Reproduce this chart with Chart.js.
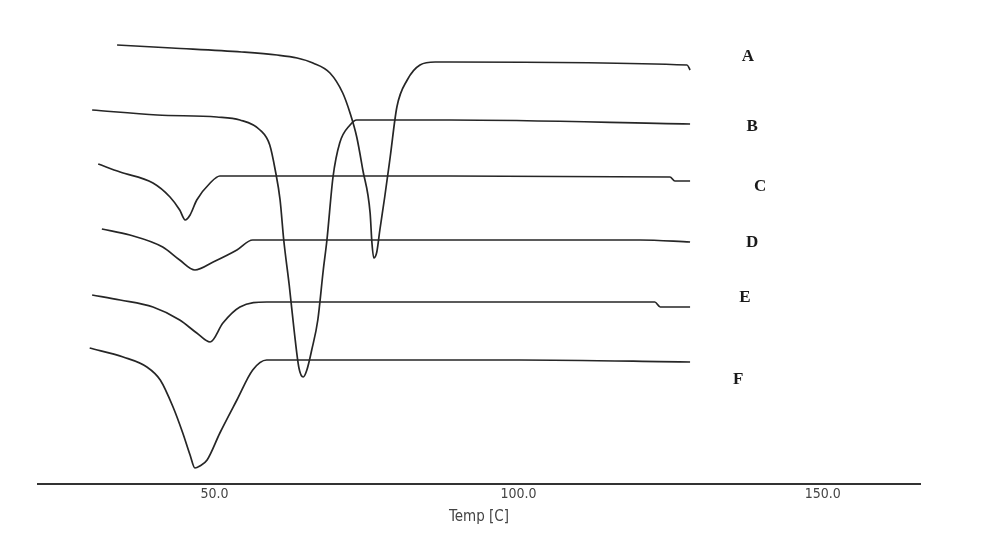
<!DOCTYPE html>
<html>
<head>
<meta charset="utf-8">
<script src="https://cdn.jsdelivr.net/npm/chart.js@4"></script>
<style>
  body { margin: 0; background: #fff; }
</style>
</head>
<body>
<canvas id="dscChart" width="1000" height="548"></canvas>
<script>
// DSC curves, temperature in C and signal (arbitrary units, stacked offsets)
const seriesNames = ["A", "B", "C", "D", "E", "F"];

const aTemp = [34.0, 43.0, 54.5, 60.3, 63.6, 66.2, 69.0, 71.1, 72.3, 73.4, 74.4, 75.6, 75.9, 76.2, 76.7, 77.2, 78.0, 78.9, 80.0, 81.7, 83.8, 86.3, 88.7, 127.7, 128.2];
const aSignal = [439, 436, 432, 429, 426, 421, 411, 391, 371, 347, 314, 271, 241, 226, 232, 254, 287, 327, 377, 404, 419, 422, 422, 419, 414];

const bTemp = [29.9, 40.6, 50.4, 54.2, 57.5, 59.1, 60.0, 60.8, 61.4, 62.3, 63.1, 63.9, 64.6, 65.2, 66.0, 67.0, 67.9, 68.5, 69.5, 70.6, 72.3, 73.4, 88.7, 128.2];
const bSignal = [374, 369, 367, 364, 354, 339, 314, 284, 244, 199, 154, 116, 107, 114, 134, 164, 214, 244, 307, 341, 359, 364, 364, 360];

const cTemp = [30.9, 34.5, 39.9, 42.7, 44.3, 45.2, 46.0, 47.1, 49.3, 50.9, 88.7, 124.9, 125.7, 128.2];
const cSignal = [320, 312, 301, 287, 274, 264, 269, 284, 301, 308, 308, 307, 303, 303];

const dTemp = [31.5, 36.1, 41.5, 44.3, 46.8, 49.8, 53.7, 56.3, 120.0, 128.2];
const dSignal = [255, 249, 237, 224, 214, 222, 234, 244, 244, 242];

const eTemp = [29.9, 34.5, 39.9, 44.3, 47.1, 49.3, 51.4, 54.2, 58.6, 122.4, 123.3, 128.2];
const eSignal = [189, 184, 177, 164, 151, 142, 161, 177, 182, 182, 177, 177];

const fTemp = [29.5, 35.0, 38.9, 41.1, 43.2, 44.8, 46.0, 46.8, 47.6, 48.8, 50.9, 53.7, 56.3, 58.6, 100.2, 128.2];
const fSignal = [136, 127, 117, 104, 77, 51, 29, 16, 18, 24, 51, 84, 114, 124, 124, 122];

const xTicks = [50, 100, 150];

// where each curve letter sits (data units)
const labelTemp = [137.7, 138.4, 139.7, 138.4, 137.2, 136.1];
const labelSignal = [427, 357, 297, 241, 186, 104];

const temps = [aTemp, bTemp, cTemp, dTemp, eTemp, fTemp];
const signals = [aSignal, bSignal, cSignal, dSignal, eSignal, fSignal];

const datasets = seriesNames.map((name, i) => ({
  label: name,
  data: temps[i].map((t, j) => ({ x: t, y: signals[i][j] })),
  borderColor: "#262626",
  borderWidth: 1.7,
  pointRadius: 0,
  fill: false,
  tension: 0.35,
  cubicInterpolationMode: "monotone",
}));

const curveLabels = {
  id: "curveLabels",
  afterDatasetsDraw(chart) {
    const ctx = chart.ctx;
    const xs = chart.scales.x;
    const ys = chart.scales.y;
    ctx.save();
    ctx.font = "bold 17px 'Liberation Serif'";
    ctx.fillStyle = "#1a1a1a";
    ctx.textAlign = "center";
    ctx.textBaseline = "middle";
    seriesNames.forEach((name, i) => {
      ctx.fillText(name, xs.getPixelForValue(labelTemp[i]), ys.getPixelForValue(labelSignal[i]));
    });
    ctx.restore();
  },
};

new Chart(document.getElementById("dscChart").getContext("2d"), {
  type: "line",
  data: { datasets: datasets },
  plugins: [curveLabels],
  options: {
    responsive: false,
    animation: false,
    layout: { padding: { left: 38, right: 80, top: 0, bottom: 22 } },
    plugins: {
      legend: { display: false },
      tooltip: { enabled: false },
    },
    scales: {
      x: {
        type: "linear",
        min: 21,
        max: 166,
        afterBuildTicks: (scale) => {
          scale.ticks = xTicks.map((v) => ({ value: v }));
        },
        afterFit: (scale) => {
          scale.height = 42;
        },
        grid: { display: false, drawTicks: false },
        border: { display: true, color: "#333", width: 2 },
        ticks: {
          padding: 2,
          color: "#444",
          font: { family: "DejaVu Sans Condensed", size: 14 },
          callback: (v) => v.toFixed(1),
          maxRotation: 0,
        },
        title: {
          display: true,
          text: "Temp [C]",
          color: "#444",
          font: { family: "DejaVu Sans Condensed", size: 15 },
          padding: { top: 4, bottom: 0 },
        },
      },
      y: {
        type: "linear",
        display: false,
        min: 0,
        max: 484,
      },
    },
  },
});
</script>
</body>
</html>
